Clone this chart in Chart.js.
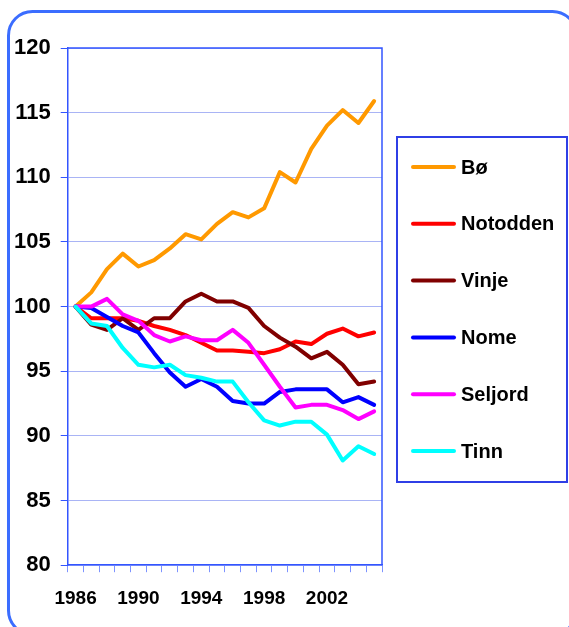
<!DOCTYPE html>
<html>
<head>
<meta charset="utf-8">
<script src="https://cdn.jsdelivr.net/npm/chart.js@4.4.1/dist/chart.umd.min.js"></script>
<style>
  html, body { margin: 0; padding: 0; background: #ffffff; }
  #chart { display: block; }
</style>
</head>
<body>
<canvas id="chart" width="569" height="627"></canvas>
<script>
var years = ["1986", "1987", "1988", "1989", "1990", "1991", "1992", "1993", "1994", "1995",
             "1996", "1997", "1998", "1999", "2000", "2001", "2002", "2003", "2004", "2005"];

var bo       = [100, 101.1, 102.9, 104.1, 103.1, 103.6, 104.5, 105.6, 105.2, 106.4, 107.3, 106.9, 107.6, 110.4, 109.6, 112.2, 114.0, 115.2, 114.2, 115.9];
var notodden = [100, 99.1, 99.1, 99.1, 98.9, 98.5, 98.2, 97.8, 97.2, 96.6, 96.6, 96.5, 96.4, 96.7, 97.3, 97.1, 97.9, 98.3, 97.7, 98.0];
var vinje    = [100, 98.6, 98.2, 99.1, 98.2, 99.1, 99.1, 100.4, 101.0, 100.4, 100.4, 99.9, 98.5, 97.6, 96.9, 96.0, 96.5, 95.5, 94.0, 94.2];
var nome     = [100, 99.9, 99.2, 98.5, 98.0, 96.4, 94.9, 93.8, 94.4, 93.8, 92.7, 92.5, 92.5, 93.4, 93.6, 93.6, 93.6, 92.6, 93.0, 92.4];
var seljord  = [100, 100, 100.6, 99.4, 98.9, 97.8, 97.3, 97.7, 97.4, 97.4, 98.2, 97.2, 95.5, 93.8, 92.2, 92.4, 92.4, 92.0, 91.3, 91.9];
var tinn     = [100, 98.7, 98.5, 96.8, 95.5, 95.3, 95.5, 94.7, 94.5, 94.2, 94.2, 92.6, 91.2, 90.8, 91.1, 91.1, 90.1, 88.1, 89.2, 88.6];

var seriesNames = ["Bø", "Notodden", "Vinje", "Nome", "Seljord", "Tinn"];
var seriesData = [bo, notodden, vinje, nome, seljord, tinn];
var seriesColors = ["#FF9900", "#FF0000", "#800000", "#0000FF", "#FF00FF", "#00FFFF"];

var yMin = 80, yMax = 120, yStep = 5;
var xLabelEvery = 4;

var FONT = "'Liberation Sans', Arial, Helvetica, sans-serif";

function roundRectPath(ctx, x, y, w, h, r) {
    ctx.beginPath();
    ctx.moveTo(x + r, y);
    ctx.arcTo(x + w, y, x + w, y + h, r);
    ctx.arcTo(x + w, y + h, x, y + h, r);
    ctx.arcTo(x, y + h, x, y, r);
    ctx.arcTo(x, y, x + w, y, r);
    ctx.closePath();
}

var framePlugin = {
    id: 'frame',
    beforeDraw: function (chart) {
        var ctx = chart.ctx;
        ctx.save();
        ctx.fillStyle = '#ffffff';
        ctx.fillRect(0, 0, chart.width, chart.height);
        ctx.strokeStyle = '#3b6dff';
        ctx.lineWidth = 3;
        roundRectPath(ctx, 8.5, 11.5, 568, 623, 24);
        ctx.stroke();
        ctx.restore();
    },
    afterDraw: function (chart) {
        var ctx = chart.ctx;
        var a = chart.chartArea;
        ctx.save();
        // top and right edge of the plot box
        ctx.strokeStyle = '#3355ff';
        ctx.lineWidth = 1.5;
        ctx.beginPath();
        ctx.moveTo(a.left, a.top);
        ctx.lineTo(a.right, a.top);
        ctx.lineTo(a.right, a.bottom);
        ctx.stroke();
        ctx.restore();
    }
};

// legend box to the right of the plot, one row per dataset
var boxLegend = {
    id: 'boxLegend',
    afterDraw: function (chart) {
        var ctx = chart.ctx;
        var a = chart.chartArea;
        var left = a.right + 15, top = 137, right = 567, bottom = 482;
        var firstY = 167, rowGap = 56.8;
        ctx.save();
        ctx.strokeStyle = '#2f3fe6';
        ctx.lineWidth = 2;
        ctx.strokeRect(left, top, right - left, bottom - top);
        ctx.font = 'bold 20px ' + FONT;
        ctx.textBaseline = 'middle';
        ctx.textAlign = 'left';
        chart.data.datasets.forEach(function (ds, i) {
            var y = firstY + i * rowGap;
            ctx.strokeStyle = ds.borderColor;
            ctx.lineWidth = 4;
            ctx.lineCap = 'round';
            ctx.beginPath();
            ctx.moveTo(left + 16, y);
            ctx.lineTo(left + 57, y);
            ctx.stroke();
            ctx.fillStyle = '#000000';
            ctx.fillText(ds.label, left + 64, y + 1);
        });
        ctx.restore();
    }
};

var datasets = seriesNames.map(function (name, i) {
    return {
        label: name,
        data: seriesData[i],
        borderColor: seriesColors[i],
        backgroundColor: seriesColors[i],
        borderWidth: 4,
        pointRadius: 0,
        tension: 0,
        fill: false,
        borderJoinStyle: 'round',
        borderCapStyle: 'round',
        order: seriesNames.length - i
    };
});

var ctx = document.getElementById('chart').getContext('2d');

new Chart(ctx, {
    type: 'line',
    data: {
        labels: years,
        datasets: datasets
    },
    options: {
        responsive: false,
        animation: false,
        devicePixelRatio: 1,
        layout: {
            padding: { left: 4, right: 187, top: 48, bottom: 2 }
        },
        plugins: {
            tooltip: { enabled: false },
            legend: { display: false }
        },
        scales: {
            x: {
                type: 'category',
                offset: true,
                grid: {
                    offset: true,
                    drawOnChartArea: false,
                    drawTicks: true,
                    tickLength: 7,
                    tickColor: '#7d93ff',
                    tickWidth: 1
                },
                border: { display: true, color: '#3355ff', width: 1.5 },
                ticks: {
                    autoSkip: false,
                    maxRotation: 0,
                    minRotation: 0,
                    padding: 15,
                    color: '#000000',
                    font: { family: FONT, weight: 'bold', size: 19 },
                    callback: function (value, index) {
                        return index % xLabelEvery === 0 ? this.getLabelForValue(value) : '';
                    }
                }
            },
            y: {
                min: yMin,
                max: yMax,
                grid: {
                    color: '#a9b4f5',
                    lineWidth: 1,
                    drawTicks: true,
                    tickLength: 7,
                    tickColor: '#3355ff'
                },
                border: { display: true, color: '#3355ff', width: 1.5 },
                ticks: {
                    stepSize: yStep,
                    padding: 10,
                    color: '#000000',
                    font: { family: FONT, weight: 'bold', size: 22 }
                }
            }
        }
    },
    plugins: [framePlugin, boxLegend]
});
</script>
</body>
</html>
